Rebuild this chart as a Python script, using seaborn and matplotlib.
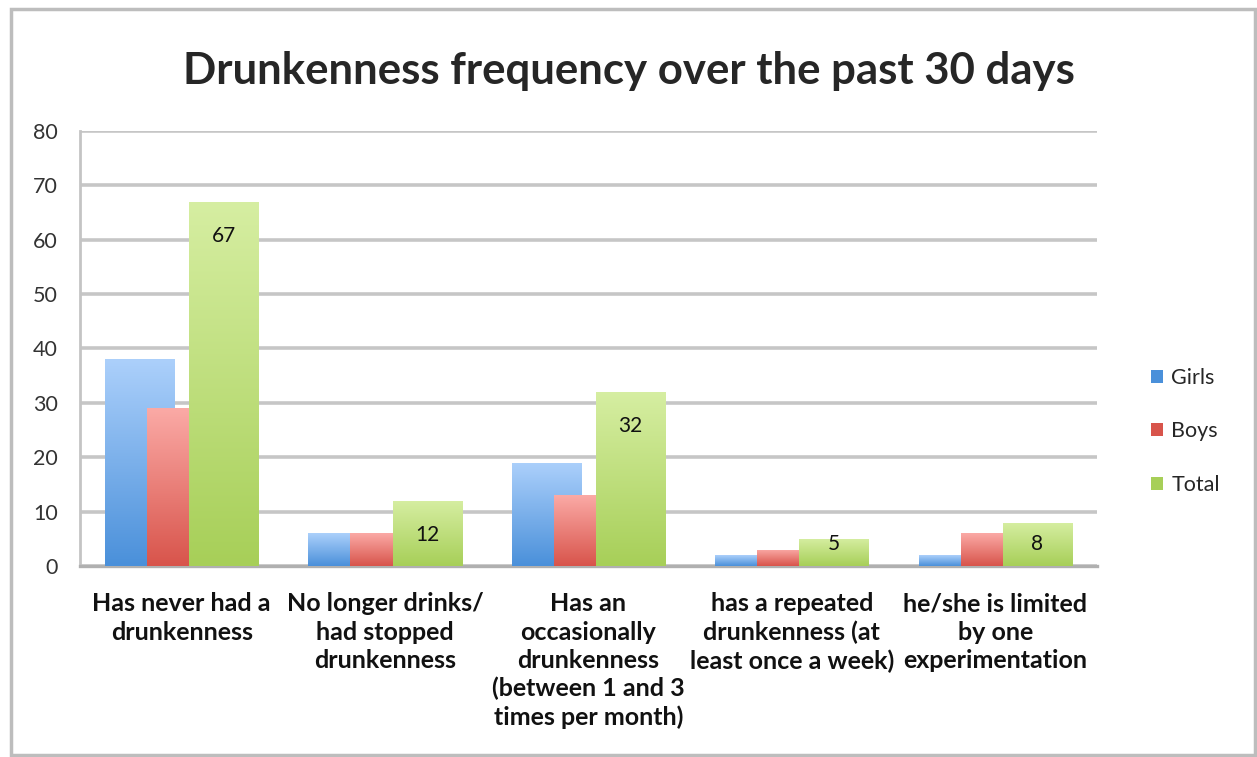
import matplotlib.pyplot as plt
import matplotlib.patches as mpatches
from matplotlib.colors import LinearSegmentedColormap
import seaborn as sns
import numpy as np
import pandas as pd

categories = ["Has never had a\ndrunkenness",
              "No longer drinks/\nhad stopped\ndrunkenness",
              "Has an\noccasionally\ndrunkenness\n(between 1 and 3\ntimes per month)",
              "has a repeated\ndrunkenness (at\nleast once a week)",
              "he/she is limited\nby one\nexperimentation"]
series = ["Girls", "Boys", "Total"]
girls = [38, 6, 19, 2, 2]
boys = [29, 6, 13, 3, 6]
total = [67, 12, 32, 5, 8]

# gradient (top, bottom) per series, Excel-ish look
grads = {"Girls": ("#acd0fb", "#4a90da"),
         "Boys": ("#fbaaa6", "#d8544b"),
         "Total": ("#d6eea2", "#a7cf58")}

df = pd.DataFrame({
    "category": categories * 3,
    "series": [s for s in series for _ in categories],
    "value": girls + boys + total,
})

sns.set_style("white")
plt.rcParams['font.family'] = ['Lato', 'DejaVu Sans']

fig = plt.figure(figsize=(12.57, 7.57), dpi=100)
ax = fig.add_axes([0.0636, 0.2523, 0.8091, 0.5747])

sns.barplot(data=df, x="category", y="value", hue="series", order=categories,
            hue_order=series, palette=[grads[s][1] for s in series],
            ax=ax, legend=False, zorder=3)

# overlapping bars like Excel, with vertical gradient fills
width, step = 0.34, 0.207
for j, s in enumerate(series):
    cmap = LinearSegmentedColormap.from_list(s, [grads[s][1], grads[s][0]])
    for i in range(len(categories)):
        p = ax.patches[j * len(categories) + i]
        h = p.get_height()
        x0 = i - (width + 2 * step) / 2 + j * step
        p.set_x(x0)
        p.set_width(width)
        p.set_facecolor("none")
        p.set_edgecolor("none")
        img = ax.imshow(np.linspace(0, 1, 256).reshape(-1, 1), cmap=cmap,
                        origin="lower", extent=[x0, x0 + width, 0, h],
                        aspect="auto", zorder=3 + j, interpolation="bilinear")
        img.set_clip_path(p)
ax.set_xlim(-0.5, len(categories) - 0.5)
ax.set_ylim(0, 80)

# data labels on Total
for i, v in enumerate(total):
    xc = i - (width + 2 * step) / 2 + 2 * step + width / 2
    ax.text(xc, max(v - 6.3, 4.1), str(v), ha="center", va="center",
            fontsize=15, color="#111111", zorder=10)

ax.set_yticks(range(0, 81, 10))
ax.yaxis.grid(True, color="#c6c6c6", linewidth=2.6, zorder=0)
ax.set_axisbelow(True)
for side in ["top", "right"]:
    ax.spines[side].set_visible(False)
ax.spines["left"].set_color("#c4c4c4")
ax.spines["left"].set_linewidth(2)
ax.spines["bottom"].set_color("#b0b0b0")
ax.spines["bottom"].set_linewidth(2.4)
ax.tick_params(axis="y", labelsize=15.5, colors="#333333", pad=16, length=0)
ax.tick_params(axis="x", labelsize=18, colors="#111111", pad=19, length=0)
for t in ax.get_xticklabels():
    t.set_linespacing(1.27)
    t.set_fontweight("bold")
ax.set_xlabel("")
ax.set_ylabel("")

fig.text(0.5, 0.906, "Drunkenness frequency over the past 30 days",
         ha="center", va="center", fontsize=31.5, fontweight="bold")

handles = [mpatches.Patch(facecolor=grads[s][1], edgecolor="none", label=s) for s in series]
fig.legend(handles=handles, loc="center left", bbox_to_anchor=(0.9, 0.43),
           frameon=False, fontsize=15.5, labelspacing=1.55, handlelength=0.55,
           handleheight=0.55, handletextpad=0.4)

fig.patches.append(mpatches.Rectangle((0.0088, 0.002), 0.9895, 0.986,
                                      transform=fig.transFigure, fill=False,
                                      edgecolor="#bdbdbd", linewidth=2.5))

fig.savefig("out.png", dpi=100)
